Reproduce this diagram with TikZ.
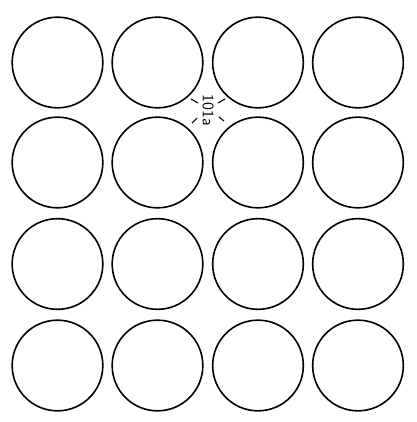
\documentclass[tikz,border=0pt]{standalone}
\usepackage{tikz}

\begin{document}
\begin{tikzpicture}[x=0.75pt,y=-0.75pt]
\useasboundingbox (0,0) rectangle (417,422);
\foreach \row/\y in {1/62.5,2/162.5,3/264,4/365.5} {
  \foreach \col/\x in {1/57.5,2/157.5,3/258,4/358} {
    \node[draw,circle,line width=1.2pt,inner sep=0pt,minimum size=68pt] (c\row\col) at (\x,\y) {};
  }
}
\node[rotate=-90,font=\sffamily\large] (lbl) at (208,110) {101a};
\draw[line width=0.8pt] (191,99) -- (198,103);
\draw[line width=0.8pt] (218,103) -- (225,99);
\draw[line width=0.8pt] (192,123) -- (197,118);
\draw[line width=0.8pt] (219,117) -- (224,121);
\end{tikzpicture}
\end{document}
